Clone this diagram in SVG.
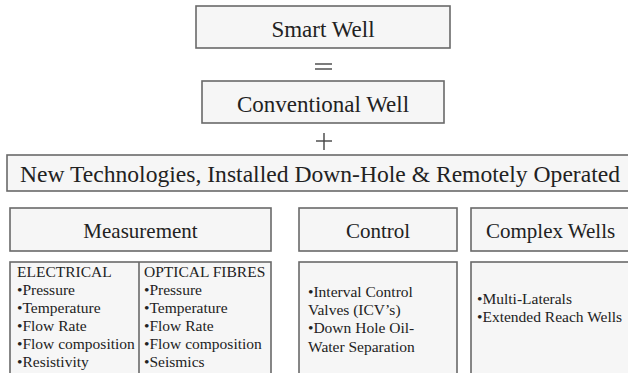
<svg xmlns="http://www.w3.org/2000/svg" width="628" height="373" viewBox="0 0 628 373" font-family="Liberation Serif, DejaVu Serif, serif">
<style>
.box{fill:#f6f6f6;stroke:#6a6a6a;stroke-width:1.6}
.t{fill:#222}
.big{font-size:23px}
.hd{font-size:21px}
.sm{font-size:15.5px}
</style>
<rect width="628" height="373" fill="#ffffff"/>
<g id="smart-well">
<rect class="box" x="196" y="6" width="254" height="42"/>
<text class="t big" x="323" y="37" text-anchor="middle">Smart Well</text>
</g>
<g id="connectors">
<line x1="315" y1="64" x2="332" y2="64" stroke="#444" stroke-width="1.4"/>
<line x1="315" y1="69" x2="332" y2="69" stroke="#444" stroke-width="1.4"/>
<line x1="316" y1="141" x2="332" y2="141" stroke="#444" stroke-width="1.4"/>
<line x1="324" y1="133" x2="324" y2="150" stroke="#444" stroke-width="1.4"/>
</g>
<g id="conventional-well">
<rect class="box" x="202" y="81" width="242" height="42"/>
<text class="t big" x="323" y="112" text-anchor="middle">Conventional Well</text>
</g>
<g id="new-technologies">
<rect class="box" x="7" y="155" width="640" height="36"/>
<text class="t big" x="20" y="182" textLength="600" lengthAdjust="spacingAndGlyphs">New Technologies, Installed Down-Hole &amp; Remotely Operated</text>
</g>
<g id="measurement">
<rect class="box" x="10" y="208" width="261" height="43"/>
<text class="t hd" x="140.5" y="238" text-anchor="middle">Measurement</text>
</g>
<g id="control">
<rect class="box" x="299" y="208" width="158" height="43"/>
<text class="t hd" x="378" y="238" text-anchor="middle">Control</text>
</g>
<g id="complex-wells">
<rect class="box" x="471" y="208" width="180" height="43"/>
<text class="t hd" x="486" y="238">Complex Wells</text>
</g>
<g id="measurement-details">
<rect class="box" x="10" y="262" width="261" height="130"/>
<line x1="139" y1="262" x2="139" y2="392" stroke="#6a6a6a" stroke-width="1.6"/>
<text class="t sm" x="17" y="277">ELECTRICAL</text>
<text class="t sm" x="17" y="295">•Pressure</text>
<text class="t sm" x="17" y="313">•Temperature</text>
<text class="t sm" x="17" y="331">•Flow Rate</text>
<text class="t sm" x="17" y="349">•Flow composition</text>
<text class="t sm" x="17" y="367">•Resistivity</text>
<text class="t sm" x="144" y="277">OPTICAL FIBRES</text>
<text class="t sm" x="144" y="295">•Pressure</text>
<text class="t sm" x="144" y="313">•Temperature</text>
<text class="t sm" x="144" y="331">•Flow Rate</text>
<text class="t sm" x="144" y="349">•Flow composition</text>
<text class="t sm" x="144" y="367">•Seismics</text>
</g>
<g id="control-details">
<rect class="box" x="299" y="262" width="158" height="130"/>
<text class="t sm" x="308" y="297">•Interval Control</text>
<text class="t sm" x="308" y="315">Valves (ICV’s)</text>
<text class="t sm" x="308" y="333">•Down Hole Oil-</text>
<text class="t sm" x="308" y="352">Water Separation</text>
</g>
<g id="complex-wells-details">
<rect class="box" x="471" y="262" width="180" height="130"/>
<text class="t sm" x="477" y="304">•Multi-Laterals</text>
<text class="t sm" x="477" y="322">•Extended Reach Wells</text>
</g>
</svg>
